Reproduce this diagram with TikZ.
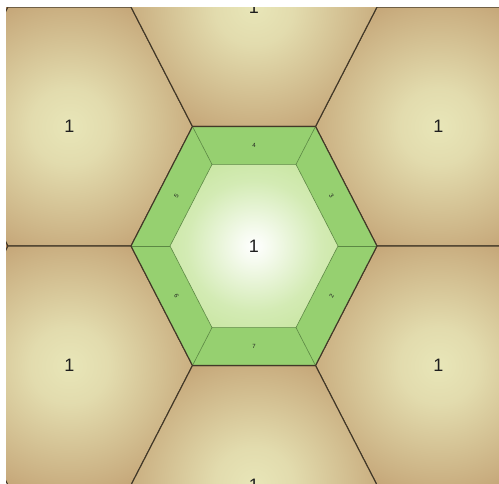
\documentclass[tikz,border=0pt]{standalone}
\usepackage{fontspec}
\setmainfont{Liberation Sans}
\usetikzlibrary{calc}
\usepackage{xcolor}
\definecolor{soil}  {RGB}{174,124,78}
\definecolor{sand}  {RGB}{232,230,184}
\definecolor{leaf}  {RGB}{150,208,112}
\definecolor{sprout}{RGB}{188,224,140}
\definecolor{seam}  {RGB}{66,56,40}
\definecolor{rim}   {RGB}{92,136,68}
\definecolor{ink}   {RGB}{30,30,30}
\pgfdeclareradialshading{cellglow}{\pgfpoint{0bp}{0bp}}{color(0bp)=(sand); color(8bp)=(sand!90!soil); color(25bp)=(sand!48!soil); color(43bp)=(soil); color(50bp)=(soil)}
\pgfdeclareradialshading{heartglow}{\pgfpoint{0bp}{0bp}}{color(0bp)=(white); color(5bp)=(white!85!sprout); color(20bp)=(white!35!sprout); color(40bp)=(sprout); color(50bp)=(sprout)}
\newcommand{\hexcell}[1]{(0:#1) -- (60:#1) -- (120:#1) -- (180:#1) -- (240:#1) -- (300:#1) -- cycle}

\begin{document}
\begin{tikzpicture}[x=1pt, y=-1pt,
    seam/.style={draw=seam, line width=1.1pt},
    cell/.style={seam, shading=cellglow},
    rimline/.style={draw=rim, line width=0.6pt},
    big/.style={font=\fontsize{18}{18}\selectfont, text=ink},
    tiny/.style={font=\fontsize{6}{6}\selectfont, text=ink}
  ]
  \useasboundingbox (0,0) rectangle (499,483);
  \clip (6,7) rectangle (499,483);
  \fill[soil] (6,7) rectangle (499,483);
  % outer cells
  \foreach \dx/\dy/\nm in {-184.5/-119.5/nw, 184.5/-119.5/ne, -184.5/119.5/sw, 184.5/119.5/se, 0/-239/n, 0/239/s} {
    \begin{scope}[shift={(254+\dx,246+\dy)}, yscale=1.1219]
      \shade[cell] \hexcell{123};
      \node[big] (cell-\nm) at (0,0) {1};
    \end{scope}
  }
  % central cell with its ring
  \begin{scope}[shift={(254,246)}, yscale=1.1219]
    \fill[leaf] \hexcell{123};
    \shade[shading=heartglow] \hexcell{84};
    \draw[rimline] \hexcell{84};
    \foreach \ang in {0,60,...,300}
      \draw[rimline] (\ang:84) -- (\ang:123);
    \draw[seam] \hexcell{123};
    \node[big] (heart) at (0,0) {1};
    \foreach \ang/\txt/\rot in {-90/4/0, -30/3/-60, 30/2/60, 90/7/0, 150/6/-60, 210/5/60}
      \node[tiny, rotate=\rot] (ring-\txt) at (\ang:89.6) {\txt};
  \end{scope}
\end{tikzpicture}
\end{document}
